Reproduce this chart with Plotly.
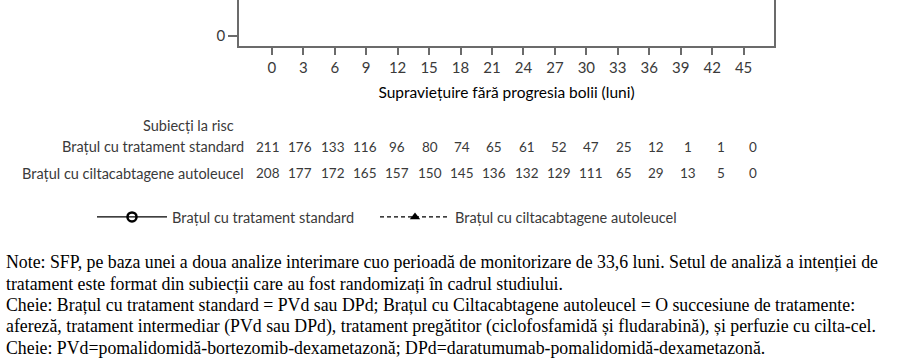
import plotly.graph_objects as go

# ---- data ----
months = [0, 3, 6, 9, 12, 15, 18, 21, 24, 27, 30, 33, 36, 39, 42, 45]
risk_standard = [211, 176, 133, 116, 96, 80, 74, 65, 61, 52, 47, 25, 12, 1, 1, 0]
risk_cilta = [208, 177, 172, 165, 157, 150, 145, 136, 132, 129, 111, 65, 29, 13, 5, 0]
series_names = ["Brațul cu tratament standard", "Brațul cu ciltacabtagene autoleucel"]
risk_title = "Subiecți la risc"
x_title = "Supraviețuire fără progresia bolii (luni)"
note_lines = [
    "Note: SFP, pe baza unei a doua analize interimare cuo perioadă de monitorizare de 33,6 luni. Setul de analiză a intenției de",
    "tratament este format din subiecții care au fost randomizați în cadrul studiului.",
    "Cheie: Brațul cu tratament standard = PVd sau DPd; Brațul cu Ciltacabtagene autoleucel = O succesiune de tratamente:",
    "afereză, tratament intermediar (PVd sau DPd), tratament pregătitor (ciclofosfamidă și fludarabină), și perfuzie cu cilta-cel.",
    "Cheie: PVd=pomalidomidă-bortezomib-dexametazonă; DPd=daratumumab-pomalidomidă-dexametazonă.",
]

W, H = 903, 359
L, R, T, B = 239, 129, 0, 313
PW, PH = W - L - R, H - T - B

def py(p):  # pixel row -> paper y
    return (H - B - p) / PH

def px(p):  # pixel col -> paper x
    return (p - L) / PW

SANS = "Lato"
GREY = "#3a3a3a"
AX = "#6b6b6b"
FS = 14.5

fig = go.Figure()
fig.add_trace(go.Scatter(x=[None], y=[None], name=series_names[0], mode="lines+markers",
                         legend="legend",
                         line=dict(color="black", width=1.3),
                         marker=dict(symbol="circle-open", size=9, color="black", line=dict(width=2.5))))
fig.add_trace(go.Scatter(x=[None], y=[None], name=series_names[1], mode="lines+markers",
                         legend="legend2",
                         line=dict(color="black", width=1.2, dash="4px,3px"),
                         marker=dict(symbol="triangle-up", size=9, color="black")))

# invisible helper axis for risk table columns
fig.add_trace(go.Scatter(x=[None], y=[None], xaxis="x2", showlegend=False))

anns = []
anns.append(dict(x=px(236), y=py(125), xref="paper", yref="paper", text=risk_title,
                 showarrow=False, xanchor="right", yanchor="middle",
                 font=dict(family=SANS, size=FS, color=GREY)))
for row, (name, vals) in enumerate([(series_names[0], risk_standard), (series_names[1], risk_cilta)]):
    yy = py([146.5, 173][row])
    anns.append(dict(x=px(246), y=yy, xref="paper", yref="paper", text=name,
                     showarrow=False, xanchor="right", yanchor="middle",
                     font=dict(family=SANS, size=FS, color=GREY)))
    for m, v in zip(months, vals):
        anns.append(dict(x=m, y=yy, xref="x2", yref="paper", text=str(v), showarrow=False,
                         xanchor="center", yanchor="middle",
                         font=dict(family=SANS, size=13.5, color=GREY)))

note_y = [262, 283.5, 305, 326.5, 347.5]
for line, yp in zip(note_lines, note_y):
    anns.append(dict(x=px(4), y=py(yp), xref="paper", yref="paper", text=line,
                     showarrow=False, xanchor="left", yanchor="middle", align="left",
                     font=dict(family="Liberation Serif", size=17.8, color="black")))

leg_common = dict(orientation="h", xref="container", yref="container",
                  y=1 - 217 / H, xanchor="left", yanchor="middle",
                  itemwidth=70, font=dict(family=SANS, size=FS, color=GREY),
                  bgcolor="rgba(0,0,0,0)")

fig.update_layout(
    width=W, height=H, margin=dict(l=L, r=R, t=T, b=B, autoexpand=False),
    paper_bgcolor="white", plot_bgcolor="white",
    showlegend=True,
    legend=dict(x=92 / W, **leg_common),
    legend2=dict(x=375 / W, **leg_common),
    xaxis=dict(range=[-3.13, 47.9], tickvals=months, ticktext=[str(m) for m in months],
               showline=True, linecolor=AX, linewidth=1.6, mirror=False,
               ticks="outside", ticklen=7, tickwidth=1.6, tickcolor=AX,
               showgrid=False, zeroline=False,
               tickfont=dict(family=SANS, size=15, color=GREY),
               title=dict(text=x_title, font=dict(family=SANS, size=15.5, color="black"), standoff=12)),
    xaxis2=dict(range=[-2.69, 46.94], overlaying="x", visible=False, anchor="y"),
    yaxis=dict(range=[-5, 18], tickvals=[0], ticktext=["0"],
               showline=True, linecolor=AX, linewidth=1.6, mirror=True,
               ticks="outside", ticklen=9, tickwidth=1.6, tickcolor=AX,
               showgrid=False, zeroline=False,
               tickfont=dict(family=SANS, size=15, color=GREY)),
    annotations=anns,
)

fig.write_html("out.html")
